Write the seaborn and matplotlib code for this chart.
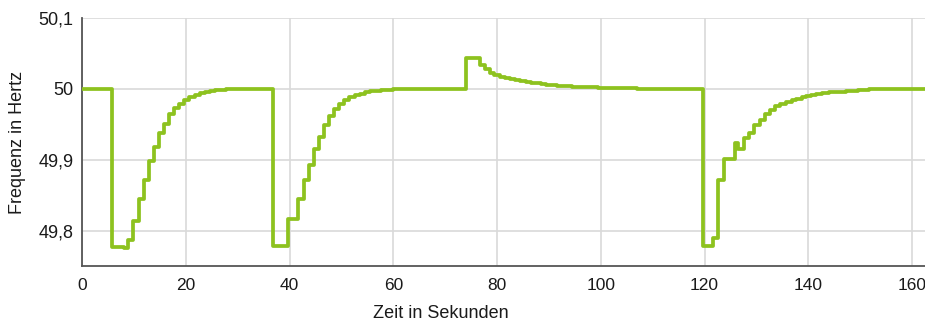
import matplotlib
matplotlib.use("Agg")
import matplotlib.pyplot as plt
from matplotlib.ticker import FixedLocator, FixedFormatter, MultipleLocator
import pandas as pd
import seaborn as sns

# Frequenzverlauf, Stufenverlauf: Wert gilt ab dem Zeitpunkt
zeit = [0, 5.85, 8.0, 8.93, 9.9, 11.0, 12.0, 13.0, 13.9, 14.9, 15.8, 16.8, 17.8,
        18.75, 19.7, 20.7, 21.7, 22.7, 23.7, 24.7, 25.7, 26.7, 27.7, 29.0,
        36.9, 39.75, 41.7, 42.8, 43.8, 44.8, 45.6, 46.6, 47.6, 48.6, 49.5, 50.5,
        51.5, 52.6, 53.6, 54.6, 55.6, 56.6, 57.6, 58.6, 60.0, 62.0, 64.0,
        74.1, 76.8, 77.6, 78.6, 79.5, 80.5, 81.5, 82.5, 83.5, 84.5, 85.5, 86.5,
        87.5, 88.5, 89.5, 90.5, 91.5, 92.5, 93.5, 94.5, 95.5, 96.5, 98.0, 99.5,
        101.0, 103.0, 105.0, 107.0, 110.0, 113.0,
        119.8, 121.6, 122.6, 123.7, 125.8, 126.5, 127.7, 128.6, 129.6, 130.6,
        131.6, 132.6, 133.5, 134.5, 135.8, 136.8, 137.7, 138.7, 139.6, 140.5,
        141.5, 142.7, 144.0, 145.5, 147.3, 149.5, 151.8, 154.0, 156.0, 162.5]
frequenz = [50.0, 49.777, 49.775, 49.786, 49.8135, 49.844, 49.871, 49.898, 49.918,
            49.937, 49.951, 49.964, 49.9735, 49.979, 49.984, 49.988, 49.991, 49.9935,
            49.9955, 49.997, 49.998, 49.9988, 49.9994, 50.0,
            49.778, 49.817, 49.844, 49.871, 49.892, 49.9146, 49.9325, 49.949, 49.962,
            49.971, 49.978, 49.984, 49.988, 49.991, 49.9932, 49.995, 49.9965, 49.9975,
            49.9983, 49.999, 49.9994, 49.9998, 50.0,
            50.0435, 50.034, 50.028, 50.022, 50.019, 50.0166, 50.0148, 50.0133, 50.012,
            50.0107, 50.0096, 50.0086, 50.0077, 50.0068, 50.006, 50.0053, 50.0047,
            50.0041, 50.0036, 50.0032, 50.0028, 50.0024, 50.002, 50.0016, 50.0013,
            50.001, 50.0007, 50.0004, 50.0002, 50.0,
            49.778, 49.789, 49.871, 49.901, 49.923, 49.915, 49.930, 49.937, 49.949,
            49.956, 49.9645, 49.9705, 49.9755, 49.979, 49.982, 49.984, 49.9855, 49.988,
            49.990, 49.9915, 49.993, 49.994, 49.995, 49.996, 49.9975, 49.9985, 49.9993,
            49.9997, 50.0, 50.0]

x_ticks = [0, 20, 40, 60, 80, 100, 120, 140, 160]
y_ticks = [49.8, 49.9, 50.0, 50.1]
y_tick_labels = ["49,8", "49,9", "50", "50,1"]

sns.set_theme(style="white")
plt.rcParams["font.family"] = ["Liberation Sans", "DejaVu Sans"]

df = pd.DataFrame({"Zeit": zeit, "Frequenz": frequenz})

fig = plt.figure(figsize=(9.25, 3.22), dpi=100)
ax = fig.add_axes([82 / 925, 1 - 266 / 322, 1 - 82 / 925, (266 - 18) / 322])

sns.lineplot(data=df, x="Zeit", y="Frequenz", ax=ax, color="#8dc21f",
             linewidth=2.7, drawstyle="steps-post", estimator=None, sort=False,
             zorder=3)

ax.set_xlim(0, 162.5)
ax.set_ylim(49.75, 50.1)
ax.xaxis.set_major_locator(FixedLocator(x_ticks))
ax.xaxis.set_minor_locator(MultipleLocator(5))
ax.yaxis.set_major_locator(FixedLocator(y_ticks))
ax.yaxis.set_major_formatter(FixedFormatter(y_tick_labels))
ax.yaxis.set_minor_locator(MultipleLocator(0.0125))

ax.grid(True, which="major", color="#d9d9d9", linewidth=1.2)
ax.set_axisbelow(True)
for side in ("top", "right"):
    ax.spines[side].set_visible(False)
for side in ("left", "bottom"):
    ax.spines[side].set_color("#555555")
    ax.spines[side].set_linewidth(1.3)

ax.tick_params(which="both", direction="in", color="#999999", width=0.8,
               labelcolor="#1a1a1a")
ax.tick_params(which="major", length=0)
ax.tick_params(which="minor", length=3.5)
ax.tick_params(axis="y", which="major", pad=6, labelsize=13)
ax.tick_params(axis="x", which="major", pad=8.5, labelsize=12.5)

ax.set_xlabel("Zeit in Sekunden", fontsize=13, color="#1a1a1a")
ax.set_ylabel("Frequenz in Hertz", fontsize=13, color="#1a1a1a")
ax.xaxis.label.set_verticalalignment("center")
ax.yaxis.label.set_verticalalignment("center")
ax.xaxis.set_label_coords(0.426, -0.19)
ax.yaxis.set_label_coords(-0.076, 0.5)

fig.savefig("out.png", dpi=100)
